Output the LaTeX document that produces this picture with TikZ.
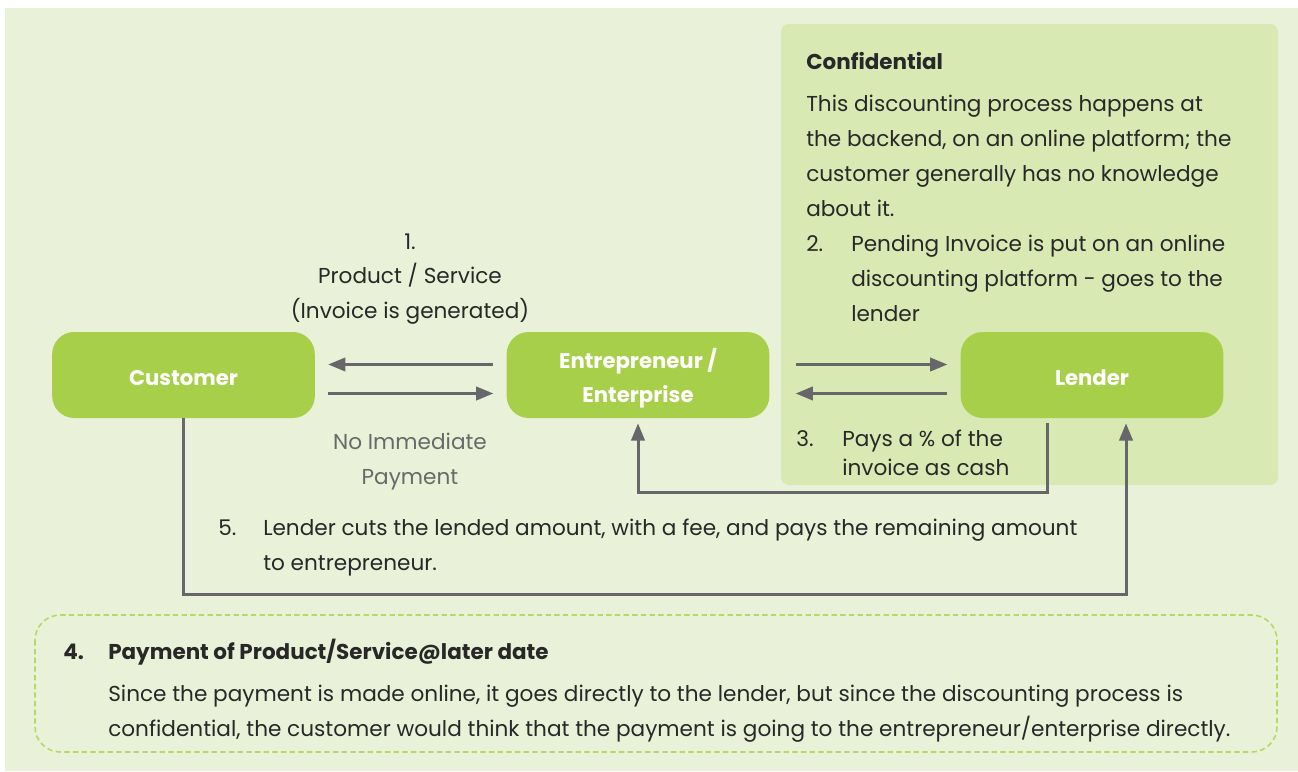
\documentclass[tikz,border=0pt]{standalone}
\usepackage{fontspec}
\setmainfont{Poppins}
\usetikzlibrary{arrows.meta,calc}
\definecolor{bgc}{RGB}{233,242,216}
\definecolor{confc}{RGB}{217,233,180}
\definecolor{nodec}{RGB}{168,207,74}
\definecolor{arrc}{RGB}{103,103,107}
\definecolor{darkt}{RGB}{40,40,40}
\definecolor{grayt}{RGB}{105,105,105}
\definecolor{dashc}{RGB}{180,217,106}
\newcommand{\lowln}[1]{\raisebox{-2.4pt}[\height][\depth]{#1}}
\tikzset{
  actor/.style={draw=none, fill=nodec, rounded corners=16.5pt, minimum width=197pt, minimum height=64.5pt,
    text=white, align=center, inner sep=0pt, font=\fontsize{15.9}{25.5}\selectfont\bfseries},
  txt/.style={anchor=base west, inner sep=0pt, text=darkt, font=\fontsize{16.2}{19}\selectfont},
  ctxt/.style={anchor=base, inner sep=0pt, text=darkt, font=\fontsize{16.2}{19}\selectfont},
  gtxt/.style={anchor=base, inner sep=0pt, text=grayt, font=\fontsize{16.2}{19}\selectfont},
  btxt/.style={anchor=base west, inner sep=0pt, text=darkt, font=\fontsize{16.1}{19}\selectfont\bfseries},
  arr/.style={draw=arrc, line width=2.25pt, -{Triangle[length=13pt,width=10pt]}},
  ln/.style={draw=arrc, line width=2.25pt}
}
\begin{document}
\begin{tikzpicture}[x=0.75pt,y=-0.75pt]
\useasboundingbox (0,0) rectangle (1298,771);
\fill[bgc] (5,8) rectangle (1298,771);
\fill[confc, rounded corners=6pt] (781,24) rectangle (1278,485);
\draw[dashc, line width=1.2pt, dash pattern=on 4pt off 2.5pt, rounded corners=19pt] (35,615) rectangle (1277,752);

\node[actor] (cust) at (183.5,375) {\lowln{Customer}};
\node[actor] (ent) at (638,375) {\lowln{Entrepreneur /}\\\lowln{Enterprise}};
\node[actor] (lend) at (1092,375) {\lowln{Lender}};

% arrows between customer and entrepreneur
\draw[arr] ($(ent.west)+(-13,-10.5)$) -- ($(cust.east)+(13,-10.5)$);
\draw[arr] ($(cust.east)+(13,18.5)$) -- ($(ent.west)+(-13,18.5)$);
% arrows between entrepreneur and lender
\draw[arr] ($(ent.east)+(26,-10.5)$) -- ($(lend.west)+(-13,-10.5)$);
\draw[arr] ($(lend.west)+(-13,18.5)$) -- ($(ent.east)+(26,18.5)$);
% lender pays entrepreneur
\coordinate (l3a) at ($(lend.south)+(-45,5)$);
\draw[arr] (l3a) -- ++(0,69) -| ($(ent.south)+(0,5)$);
% customer pays lender
\coordinate (c4a) at ($(cust.south)+(0,176)$);
\draw[arr] (cust.south) -- (c4a) -| ($(lend.south)+(34,5)$);

% labels step 1
\node[ctxt] (s1a) at (410,249) {1.};
\node[ctxt] (s1b) at (410,283) {Product / Service};
\node[ctxt] (s1c) at (410,318) {(Invoice is generated)};
\node[gtxt] (np1) at (410,449) {No Immediate};
\node[gtxt] (np2) at (410,484) {Payment};

% confidential
\node[btxt] (conf) at (806,69) {Confidential};
\node[txt] (c1) at (806,111) {This discounting process happens at};
\node[txt] (c2) at (806,146) {the backend, on an online platform; the};
\node[txt] (c3) at (806,181) {customer generally has no knowledge};
\node[txt] (c4) at (806,216) {about it.};
\node[txt] (n2) at (806,251) {2.};
\node[txt] (p2a) at (851,251) {Pending Invoice is put on an online};
\node[txt] (p2b) at (851,286) {discounting platform - goes to the};
\node[txt] (p2c) at (851,321) {lender};

% step 3
\node[txt] (n3) at (796,446) {3.};
\node[txt] (p3a) at (842,446) {Pays a \% of the};
\node[txt] (p3b) at (842,475) {invoice as cash};

% step 5
\node[txt] (n5) at (218,535) {5.};
\node[txt] (p5a) at (263,535) {Lender cuts the lended amount, with a fee, and pays the remaining amount};
\node[txt] (p5b) at (263,570) {to entrepreneur.};

% step 4
\node[btxt] (n4) at (63,659) {4.};
\node[btxt] (p4h) at (108,659) {Payment of Product/Service@later date};
\node[txt] (p4a) at (108,701) {Since the payment is made online, it goes directly to the lender, but since the discounting process is};
\node[txt] (p4b) at (108,736) {confidential, the customer would think that the payment is going to the entrepreneur/enterprise directly.};
\end{tikzpicture}
\end{document}
